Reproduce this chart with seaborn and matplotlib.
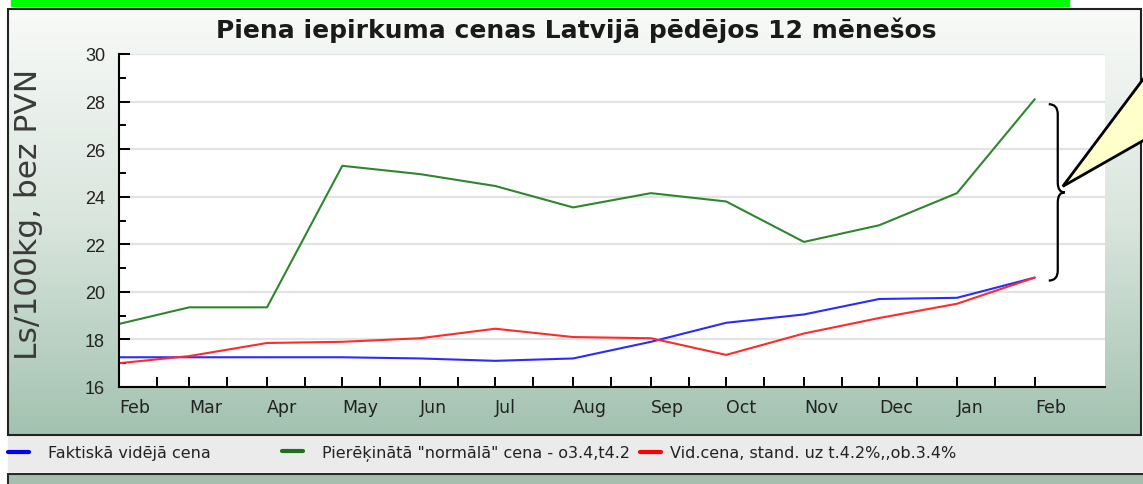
import matplotlib
matplotlib.use("Agg")
import numpy as np
import pandas as pd
import matplotlib.pyplot as plt
import matplotlib.dates as mdates
from matplotlib.colors import LinearSegmentedColormap
from matplotlib.lines import Line2D
from matplotlib.patches import Rectangle, Polygon, PathPatch
from matplotlib.path import Path
from matplotlib.transforms import IdentityTransform
import seaborn as sns

# --- data (Ls/100kg, monthly) ---
months = pd.date_range("2010-02-01", "2011-02-01", freq="MS")
month_labels = ["Feb", "Mar", "Apr", "May", "Jun", "Jul", "Aug",
                "Sep", "Oct", "Nov", "Dec", "Jan", "Feb"]
series_names = ["Faktiskā vidējā cena",
                'Pierēķinātā "normālā" cena - o3.4,t4.2',
                "Vid.cena, stand. uz t.4.2%,,ob.3.4%"]
actual = [17.25, 17.25, 17.25, 17.25, 17.2, 17.1, 17.2, 17.9, 18.7, 19.05, 19.7, 19.75, 20.6]
normal = [18.65, 19.35, 19.35, 25.3, 24.95, 24.45, 23.55, 24.15, 23.8, 22.1, 22.8, 24.15, 28.1]
standard = [17.0, 17.3, 17.85, 17.9, 18.05, 18.45, 18.1, 18.05, 17.35, 18.25, 18.9, 19.5, 20.6]
line_colors = ["#2b2bff", "#2f862f", "#ff2b2b"]
legend_colors = ["#0000ff", "#1f6f1f", "#ff0000"]

df = pd.DataFrame({
    "date": list(months) * 3,
    "value": actual + normal + standard,
    "series": np.repeat(series_names, len(months)),
})

sns.set_style("white")
plt.rcParams["font.family"] = ["DejaVu Sans"]

W, H = 1143, 485
fig = plt.figure(figsize=(W / 100, H / 100), dpi=100)
fig.patch.set_facecolor("white")


def fx(x):
    return x / W


def fy(y):
    return 1 - y / H


# panel with vertical gradient
bg = fig.add_axes([fx(8), fy(436), fx(1141 - 8), (436 - 10) / H], zorder=0)
grad = np.linspace(0, 1, 256).reshape(-1, 1)
cmap = LinearSegmentedColormap.from_list("panel", ["#f8faf8", "#d9e5dd", "#a3c2b0"])
bg.imshow(grad, aspect="auto", cmap=cmap, extent=[0, 1, 0, 1], origin="upper")
bg.set_axis_off()

ax = fig.add_axes([fx(119), fy(388), fx(1105 - 119), (388 - 55) / H], zorder=1)
ax.set_facecolor("white")
sns.lineplot(data=df, x="date", y="value", hue="series", hue_order=series_names,
             palette=line_colors, linewidth=1.5, legend=False, ax=ax)

ax.set_xlim(months[0], pd.Timestamp("2011-03-01"))
ax.set_ylim(16, 30)
ax.set_xlabel("")
ax.set_ylabel("")
ax.set_yticks(np.arange(16, 31, 2))
ax.set_yticks(np.arange(17, 30, 2), minor=True)
ax.yaxis.grid(True, which="major", color="#e3e3e3", linewidth=1.6)
ax.set_axisbelow(True)

ax.set_xticks(months)
ax.set_xticklabels(month_labels, ha="left")
mid = [d + pd.Timedelta(days=15) for d in months[:-1]]
ax.set_xticks(mid, minor=True)

for side in ["top", "right"]:
    ax.spines[side].set_visible(False)
for side in ["left", "bottom"]:
    ax.spines[side].set_color("black")
    ax.spines[side].set_linewidth(1.5)

ax.tick_params(axis="y", which="major", direction="in", left=True, length=8,
               width=1.4, color="black", pad=10, labelsize=13,
               labelcolor="#222222")
ax.tick_params(axis="y", which="minor", direction="in", left=True, length=5,
               width=1.4, color="black")
ax.tick_params(axis="x", which="both", direction="in", bottom=True, length=7.5,
               width=1.4, color="black", pad=8, labelsize=12.5,
               labelcolor="#222222")
for lbl in ax.get_yticklabels():
    lbl.set_fontfamily("Liberation Sans")

# title and y label
fig.text(fx(576), fy(30), "Piena iepirkuma cenas Latvijā pēdējos 12 mēnešos",
         ha="center", va="center", fontsize=18, fontweight="bold", color="#1a1a1a")
fig.text(fx(29), fy(214), "Ls/100kg, bez PVN", rotation=90, ha="center",
         va="center", fontsize=22.5, color="#3a3a3a")

# panel border, top bar, legend band, lower panel
fig.add_artist(Rectangle((fx(8), fy(436)), fx(1141 - 8), (436 - 10) / H,
                         transform=fig.transFigure, fill=False, ec="#222222",
                         lw=1.5, zorder=3))
fig.add_artist(Rectangle((fx(11), fy(7)), fx(1069 - 11), 7 / H,
                         transform=fig.transFigure, color="#00ff00", zorder=3))
fig.add_artist(Rectangle((fx(8), fy(472)), fx(1150 - 8), 35 / H,
                         transform=fig.transFigure, color="#ebebeb", zorder=2))
fig.add_artist(Rectangle((fx(8), fy(495)), fx(1160 - 8), 20 / H,
                         transform=fig.transFigure, fc="#a6beae", ec="#2a2a2a",
                         lw=1.5, zorder=2))

# legend: one entry per slot, as in the reference
slots = [8, 282, 640]
pads = [1.2, 1.2, 0.55]
for name, c, x0, pad in zip(series_names, legend_colors, slots, pads):
    leg = fig.legend([Line2D([], [], color=c, lw=3)], [name], loc="center left",
                     bbox_to_anchor=(fx(x0), fy(454)), frameon=False,
                     fontsize=11.5, handlelength=1.3, handletextpad=pad,
                     borderpad=0, borderaxespad=0)
    for t in leg.get_texts():
        t.set_color("#222222")
    leg.set_zorder(5)

# brace between the last green and last red points, plus callout pointer
fig.canvas.draw()
end = mdates.date2num(months[-1])
top = ax.transData.transform((end, normal[-1]))
bot = ax.transData.transform((end, standard[-1]))
x0, x1, xt = top[0] + 14, top[0] + 23, top[0] + 30
ytop, ybot = top[1] - 5, bot[1] - 3
ymid = (ytop + ybot) / 2
r = 10
verts = [(x0, ytop), (x1, ytop), (x1, ytop - r), (x1, ymid + r),
         (x1, ymid), (xt, ymid), (x1, ymid), (x1, ymid - r),
         (x1, ybot + r), (x1, ybot), (x0, ybot)]
codes = [Path.MOVETO, Path.CURVE3, Path.CURVE3, Path.LINETO,
         Path.CURVE3, Path.CURVE3, Path.CURVE3, Path.CURVE3,
         Path.LINETO, Path.CURVE3, Path.CURVE3]
fig.add_artist(PathPatch(Path(verts, codes), fill=False, ec="black", lw=1.6,
                         transform=IdentityTransform(), zorder=4))

tip = (xt - 2, ymid + 6)
fig.add_artist(Polygon([tip, (W + 10, H - 67), (W + 10, H - 136)], closed=True,
                       fc="#ffffcc", ec="black", lw=2,
                       transform=IdentityTransform(), zorder=4))

fig.savefig("out.png", dpi=100, facecolor=fig.get_facecolor())
